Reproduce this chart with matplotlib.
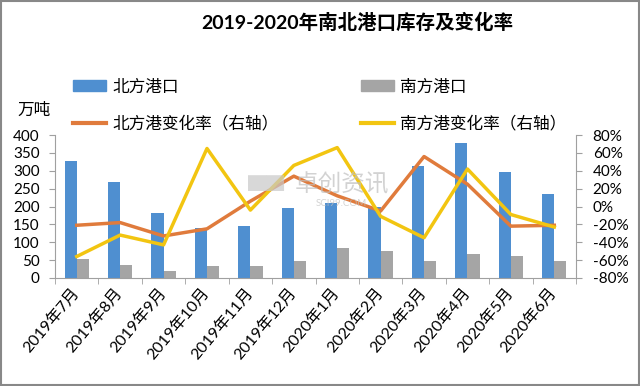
import matplotlib
matplotlib.use("Agg")
import matplotlib.pyplot as plt
import numpy as np
from matplotlib.patches import Rectangle
from matplotlib.lines import Line2D
from matplotlib.ticker import FuncFormatter

plt.rcParams['font.family'] = ['Lato', 'Noto Sans CJK SC', 'DejaVu Sans']

months = ["2019年7月", "2019年8月", "2019年9月", "2019年10月", "2019年11月", "2019年12月",
          "2020年1月", "2020年2月", "2020年3月", "2020年4月", "2020年5月", "2020年6月"]
north_stock = [327, 269, 182, 141, 145, 195, 211, 198, 313, 379, 296, 235]
south_stock = [53, 36, 19, 34, 34, 48, 84, 75, 47, 68, 62, 48]
north_rate = [-21, -18, -33, -25, 6, 34, 12, -5, 56, 25, -22, -21]
south_rate = [-56, -32, -43, 65, -4, 46, 66, -11, -35, 42, -9, -23]

title = "2019-2020年南北港口库存及变化率"
unit = "万吨"
labels = ["北方港口", "南方港口", "北方港变化率（右轴）", "南方港变化率（右轴）"]

c_blue = "#4F8FD0"
c_grey = "#A5A5A5"
c_orange = "#E07B3C"
c_yellow = "#F2C511"
c_axis = "#A0A0A0"

fig = plt.figure(figsize=(6.4, 3.86), dpi=100)
ax = fig.add_axes([0.086, 0.28, 0.814, 0.37])
x = np.arange(len(months))
w = 0.28
ax.bar(x - w / 2, north_stock, width=w, color=c_blue, zorder=2)
ax.bar(x + w / 2, south_stock, width=w, color=c_grey, zorder=2)
ax.set_xlim(-0.5, len(months) - 0.5)
ax.set_ylim(0, 400)
ax.set_yticks(range(0, 401, 50))
ax.set_xticks(x)
ax.set_xticklabels(months, rotation=50, ha='right', va='center', rotation_mode='anchor',
                   fontsize=11.5)
ax.set_xticks(np.arange(-0.5, len(months)), minor=True)
ax.tick_params(axis='x', which='major', length=0, pad=9)
ax.tick_params(axis='x', which='minor', length=4, color=c_axis)
ax.tick_params(axis='y', length=4, color=c_axis, labelsize=11, pad=7)
for s in ['top', 'right']:
    ax.spines[s].set_visible(False)
for s in ['left', 'bottom']:
    ax.spines[s].set_color(c_axis)

ax2 = ax.twinx()
ax2.plot(x, north_rate, color=c_orange, lw=2.5, zorder=3)
ax2.plot(x, south_rate, color=c_yellow, lw=2.5, zorder=4)
ax2.set_ylim(-80, 80)
ax2.set_yticks(range(-80, 81, 20))
ax2.yaxis.set_major_formatter(FuncFormatter(lambda v, p: f"{int(v)}%"))
ax2.tick_params(axis='y', length=4, color=c_axis, labelsize=11, pad=8)
for s in ['top', 'left', 'bottom']:
    ax2.spines[s].set_visible(False)
ax2.spines['right'].set_color(c_axis)

# watermark
fig.text(0.415, 0.523, "▇▇", fontsize=13, color="#C8C8C8", alpha=0.7,
         ha='center', va='center')
fig.text(0.534, 0.523, "卓创资讯", fontsize=17, color="#C0C0C0", alpha=0.7,
         ha='center', va='center')
fig.text(0.534, 0.472, "SCI99.COM", fontsize=7, color="#C0C0C0", alpha=0.7,
         ha='center', va='center')

fig.text(0.558, 0.942, title, fontsize=14, fontweight='bold', ha='center', va='center')
fig.text(0.027, 0.715, unit, fontsize=12, ha='left', va='center')

# legend
handles = [Rectangle((0, 0), 1, 1, color=c_blue), Rectangle((0, 0), 1, 1, color=c_grey),
           Line2D([], [], color=c_orange, lw=3), Line2D([], [], color=c_yellow, lw=3)]
leg_kw = dict(loc='upper left', frameon=False, fontsize=12, handlelength=2.0,
              handleheight=0.6, labelspacing=1.25, handletextpad=0.35,
              borderaxespad=0, borderpad=0)
fig.legend([handles[0], handles[2]], [labels[0], labels[2]],
           bbox_to_anchor=(0.114, 0.797), **leg_kw)
fig.legend([handles[1], handles[3]], [labels[1], labels[3]],
           bbox_to_anchor=(0.564, 0.797), **leg_kw)

fig.patches.append(Rectangle((0.002, 0.003), 0.996, 0.994, transform=fig.transFigure,
                             fill=False, edgecolor="#888888", lw=1.5))

fig.savefig("out.png", dpi=100)
